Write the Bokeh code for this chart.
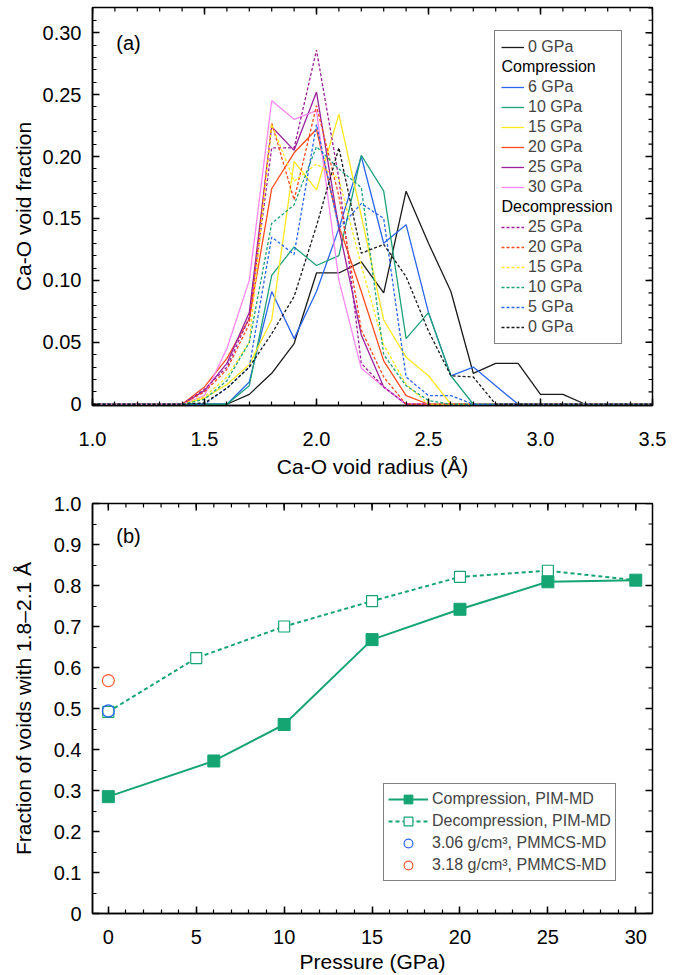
import math
from bokeh.plotting import figure
from bokeh.layouts import column
from bokeh.models import (FixedTicker, Range1d, Legend, LegendItem,
                          Label, CustomJSTickFormatter)
from bokeh.embed import file_html
from bokeh.resources import INLINE

# ---------------- data: panel (a) ----------------
radius = [1.0, 1.1, 1.2, 1.3, 1.4, 1.5, 1.6, 1.7, 1.8, 1.9, 2.0, 2.1, 2.2,
          2.3, 2.4, 2.5, 2.6, 2.7, 2.8, 2.9, 3.0, 3.1, 3.2, 3.3, 3.4, 3.5]

gpa0_start = [0, 0, 0, 0, 0, 0, 0, 0.008, 0.025, 0.049, 0.106, 0.106, 0.115,
              0.090, 0.172, 0.130, 0.091, 0.025, 0.033, 0.033, 0.008, 0.008, 0, 0, 0, 0]
comp6 = [0, 0, 0, 0, 0, 0, 0, 0.018, 0.091, 0.053, 0.091, 0.142, 0.200,
         0.130, 0.145, 0.074, 0.023, 0.030, 0.015, 0, 0, 0, 0, 0, 0, 0]
comp10 = [0, 0, 0, 0, 0, 0, 0, 0.015, 0.104, 0.127, 0.112, 0.120, 0.201,
          0.172, 0.053, 0.074, 0.023, 0, 0, 0, 0, 0, 0, 0, 0, 0]
comp15 = [0, 0, 0, 0, 0, 0.005, 0.016, 0.032, 0.068, 0.196, 0.173, 0.234, 0.152,
          0.068, 0.038, 0.023, 0, 0, 0, 0, 0, 0, 0, 0, 0, 0]
comp20 = [0, 0, 0, 0, 0, 0.014, 0.037, 0.069, 0.174, 0.203, 0.222, 0.144, 0.091,
          0.035, 0.007, 0, 0, 0, 0, 0, 0, 0, 0, 0, 0, 0]
comp25 = [0, 0, 0, 0, 0, 0.011, 0.033, 0.074, 0.224, 0.205, 0.252, 0.142, 0.056,
          0.014, 0, 0, 0, 0, 0, 0, 0, 0, 0, 0, 0, 0]
comp30 = [0, 0, 0, 0, 0, 0.007, 0.045, 0.100, 0.245, 0.230, 0.237, 0.100, 0.029,
          0.014, 0, 0, 0, 0, 0, 0, 0, 0, 0, 0, 0, 0]
dec25 = [0, 0, 0, 0, 0, 0.012, 0.030, 0.070, 0.207, 0.207, 0.286, 0.182, 0.033,
         0.014, 0, 0, 0, 0, 0, 0, 0, 0, 0, 0, 0, 0]
dec20 = [0, 0, 0, 0, 0, 0.010, 0.028, 0.065, 0.227, 0.165, 0.241, 0.168, 0.060,
         0.022, 0, 0, 0, 0, 0, 0, 0, 0, 0, 0, 0, 0]
dec15 = [0, 0, 0, 0, 0, 0.006, 0.022, 0.050, 0.226, 0.180, 0.194, 0.182, 0.112,
         0.048, 0.016, 0, 0, 0, 0, 0, 0, 0, 0, 0, 0, 0]
dec10 = [0, 0, 0, 0, 0, 0.004, 0.019, 0.050, 0.146, 0.161, 0.208, 0.190, 0.175,
         0.040, 0.015, 0.003, 0, 0, 0, 0, 0, 0, 0, 0, 0, 0]
dec5 = [0, 0, 0, 0, 0, 0, 0.013, 0.030, 0.135, 0.121, 0.226, 0.142, 0.162,
        0.150, 0.022, 0.007, 0.007, 0, 0, 0, 0, 0, 0, 0, 0, 0]
dec0 = [0, 0, 0, 0, 0, 0.001, 0.013, 0.030, 0.057, 0.087, 0.144, 0.207, 0.122,
        0.129, 0.103, 0.059, 0.023, 0.022, 0, 0, 0, 0, 0, 0, 0, 0]

x_major_a = [1.0, 1.5, 2.0, 2.5, 3.0, 3.5]
y_major_a = [0, 0.05, 0.10, 0.15, 0.20, 0.25, 0.30]

# ---------------- data: panel (b) ----------------
p_comp = [0, 6, 10, 15, 20, 25, 30]
f_comp = [0.285, 0.372, 0.461, 0.668, 0.742, 0.809, 0.813]
p_dec = [0, 5, 10, 15, 20, 25, 30]
f_dec = [0.492, 0.623, 0.700, 0.762, 0.821, 0.836, 0.813]
p_306 = [0]
f_306 = [0.494]
p_318 = [0]
f_318 = [0.568]

x_major_b = [0, 5, 10, 15, 20, 25, 30]
y_major_b = [0, 0.1, 0.2, 0.3, 0.4, 0.5, 0.6, 0.7, 0.8, 0.9, 1.0]

# ---------------- styling ----------------
FONT = "Liberation Sans"
BLACK = "#1a1a1a"
BLUE = "#2a66f2"
GREEN = "#1ca27a"
YELLOW = "#ffe81c"
RED = "#ff4a1c"
PURPLE = "#9c1f9c"
PINK = "#ff86f4"
GREEN_B = "#15a573"
RED_B = "#ff5a2e"

TICK_SIZE = "20px"
TITLE_SIZE = "21px"
MAJ_LEN = 7
MIN_LEN = 4


def frange(a, b, n):
    return [a + (b - a) * i / n for i in range(n + 1)]


def style(p, xmaj, xmin, ymaj, ymin, xfmt, yfmt, xlabel, ylabel, ytitle_gap):
    p.grid.visible = False
    p.outline_line_color = "black"
    p.outline_line_width = 1.5
    xa = p.xaxis[0]
    ya = p.yaxis[0]
    xa.ticker = FixedTicker(ticks=xmaj, minor_ticks=xmin)
    ya.ticker = FixedTicker(ticks=ymaj, minor_ticks=ymin)
    xa.formatter = CustomJSTickFormatter(code=xfmt)
    ya.formatter = CustomJSTickFormatter(code=yfmt)
    xa.axis_label = xlabel
    ya.axis_label = ylabel
    for ax in (xa, ya):
        ax.axis_line_color = "black"
        ax.axis_line_width = 1.5
        ax.major_tick_line_color = "black"
        ax.major_tick_line_width = 1.5
        ax.minor_tick_line_color = "black"
        ax.minor_tick_line_width = 1.2
        ax.major_tick_in = MAJ_LEN
        ax.major_tick_out = 0
        ax.minor_tick_in = MIN_LEN
        ax.minor_tick_out = 0
        ax.major_label_text_font = FONT
        ax.major_label_text_font_size = TICK_SIZE
        ax.major_label_text_color = "black"
        ax.axis_label_text_font = FONT
        ax.axis_label_text_font_size = TITLE_SIZE
        ax.axis_label_text_font_style = "normal"
        ax.axis_label_text_color = "black"
    ya.major_label_standoff = 11
    ya.axis_label_standoff = ytitle_gap
    # mirrored ticks on the top and right edges (inward)
    top = p.y_range.end
    right = p.x_range.end
    p.ray(x=xmaj, y=[top] * len(xmaj), length=MAJ_LEN, length_units="screen",
          angle=-math.pi / 2, line_color="black", line_width=1.5)
    p.ray(x=xmin, y=[top] * len(xmin), length=MIN_LEN, length_units="screen",
          angle=-math.pi / 2, line_color="black", line_width=1.2)
    p.ray(x=[right] * len(ymaj), y=ymaj, length=MAJ_LEN, length_units="screen",
          angle=math.pi, line_color="black", line_width=1.5)
    p.ray(x=[right] * len(ymin), y=ymin, length=MIN_LEN, length_units="screen",
          angle=math.pi, line_color="black", line_width=1.2)


# ================= panel (a) =================
W = 689
BL = 92          # frame left (px)
FW = 560         # frame width
TOP_A = 7
FH_A = 401
BOT_A = 72
HA = TOP_A + FH_A + BOT_A

pa = figure(width=W, height=HA, x_range=Range1d(1.0, 3.5),
            y_range=Range1d(-0.001, 0.3203), output_backend="svg",
            toolbar_location=None, min_border_left=BL,
            min_border_right=W - BL - FW, min_border_top=TOP_A,
            min_border_bottom=BOT_A)
style(pa, x_major_a, frange(1.0, 3.5, 25), y_major_a, frange(0, 0.32, 32),
      "return tick.toFixed(1)",
      "return Math.abs(tick) < 1e-9 ? '0' : tick.toFixed(2)",
      "Ca-O void radius (Å)", "Ca-O void fraction", 5)
pa.xaxis[0].major_label_standoff = 26
pa.xaxis[0].axis_label_standoff = 6

LW = 1.3
DASH = "3 2"
series = [
    (gpa0_start, BLACK, "solid", "0 GPa"),
    (comp6, BLUE, "solid", "6 GPa"),
    (comp10, GREEN, "solid", "10 GPa"),
    (comp15, YELLOW, "solid", "15 GPa"),
    (comp20, RED, "solid", "20 GPa"),
    (comp25, PURPLE, "solid", "25 GPa"),
    (comp30, PINK, "solid", "30 GPa"),
    (dec25, PURPLE, DASH, "25 GPa"),
    (dec20, RED, DASH, "20 GPa"),
    (dec15, YELLOW, DASH, "15 GPa"),
    (dec10, GREEN, DASH, "10 GPa"),
    (dec5, BLUE, DASH, "5 GPa"),
    (dec0, BLACK, DASH, "0 GPa"),
]
rend = []
for vals, col, dash, lab in series:
    r = pa.line(radius, vals, line_color=col, line_width=LW, line_dash=dash)
    rend.append((r, lab))

dummy = pa.line([1.0], [0.0], line_alpha=0)

items_a = [LegendItem(label=rend[0][1], renderers=[rend[0][0]]),
           LegendItem(label=" ", renderers=[dummy])]
for r, lab in rend[1:7]:
    items_a.append(LegendItem(label=lab, renderers=[r]))
items_a.append(LegendItem(label=" ", renderers=[dummy]))
for r, lab in rend[7:]:
    items_a.append(LegendItem(label=lab, renderers=[r]))

PAD_A = 6
ROW_A = 20
LEG_H_A = 2 * PAD_A + ROW_A * len(items_a)
LEG_LEFT_A = 494
LEG_TOP_A = 30
LEG_CORR = 5     # extra height Bokeh gives the legend box
leg_a = Legend(items=items_a,
               location=(LEG_LEFT_A - BL,
                         TOP_A + FH_A - LEG_TOP_A - LEG_H_A - LEG_CORR),
               label_text_font=FONT, label_text_font_size="16px",
               glyph_width=23, glyph_height=ROW_A, label_height=ROW_A,
               label_width=87, label_standoff=4, spacing=0, padding=PAD_A,
               margin=0, border_line_color="black", border_line_width=1,
               background_fill_alpha=0)
pa.add_layout(leg_a, "center")

for row, txt in ((1, "Compression"), (8, "Decompression")):
    pa.add_layout(Label(x=LEG_LEFT_A + PAD_A + 1,
                        y=LEG_TOP_A + PAD_A + ROW_A * row + ROW_A / 2,
                        x_units="canvas", y_units="canvas", text=txt,
                        text_font=FONT, text_font_size="16px",
                        text_baseline="middle", text_align="left",
                        text_color="black", level="overlay"))

pa.add_layout(Label(x=128, y=42, x_units="canvas", y_units="canvas", text="(a)",
                    text_font=FONT, text_font_size="20px", text_align="center",
                    text_baseline="middle", text_color="black", level="overlay"))

# ================= panel (b) =================
TOP_B = 23
FH_B = 413
BOT_B = 975 - HA - TOP_B - FH_B
HB = TOP_B + FH_B + BOT_B
pb = figure(width=W, height=HB, x_range=Range1d(-0.9, 30.95),
            y_range=Range1d(0, 1.0), output_backend="svg",
            toolbar_location=None, min_border_left=BL,
            min_border_right=W - BL - FW, min_border_top=TOP_B,
            min_border_bottom=BOT_B)
style(pb, x_major_b, list(range(0, 31)), y_major_b, frange(0, 1.0, 20),
      "return tick.toFixed(0)",
      "return Math.abs(tick) < 1e-9 ? '0' : tick.toFixed(1)",
      "Pressure (GPa)", "Fraction of voids with 1.8–2.1 Å", 16)
pb.xaxis[0].major_label_standoff = 16
pb.xaxis[0].axis_label_standoff = 3

lc = pb.line(p_comp, f_comp, line_color=GREEN_B, line_width=2)
ld = pb.line(p_dec, f_dec, line_color=GREEN_B, line_width=2, line_dash="4 3")
sd = pb.scatter(p_dec[:-1], f_dec[:-1], marker="square", size=11,
                fill_color="white", line_color=GREEN_B, line_width=1.2)
sc = pb.scatter(p_comp, f_comp, marker="square", size=12, fill_color=GREEN_B,
                line_color=GREEN_B, line_width=1)
c1 = pb.scatter(p_306, f_306, marker="circle", size=12, fill_color=None,
                line_color=BLUE, line_width=1.2)
c2 = pb.scatter(p_318, f_318, marker="circle", size=12, fill_color=None,
                line_color=RED_B, line_width=1.2)

PAD_B = 4
ROW_B = 22
leg_b = Legend(items=[LegendItem(label="Compression, PIM-MD", renderers=[lc, sc]),
                      LegendItem(label="Decompression, PIM-MD", renderers=[ld, sd]),
                      LegendItem(label="3.06 g/cm³, PMMCS-MD", renderers=[c1]),
                      LegendItem(label="3.18 g/cm³, PMMCS-MD", renderers=[c2])],
               location=(383 - BL, 32),
               label_text_font=FONT, label_text_font_size="16px",
               glyph_width=40, glyph_height=ROW_B, label_height=ROW_B,
               label_standoff=4, spacing=0, padding=PAD_B, margin=0,
               border_line_color="black", border_line_width=1,
               background_fill_color="white", background_fill_alpha=1)
pb.add_layout(leg_b, "center")

pb.add_layout(Label(x=128, y=55, x_units="canvas", y_units="canvas", text="(b)",
                    text_font=FONT, text_font_size="20px", text_align="center",
                    text_baseline="middle", text_color="black", level="overlay"))

layout = column(pa, pb, spacing=0)
open("out.html", "w").write(file_html(layout, INLINE))
